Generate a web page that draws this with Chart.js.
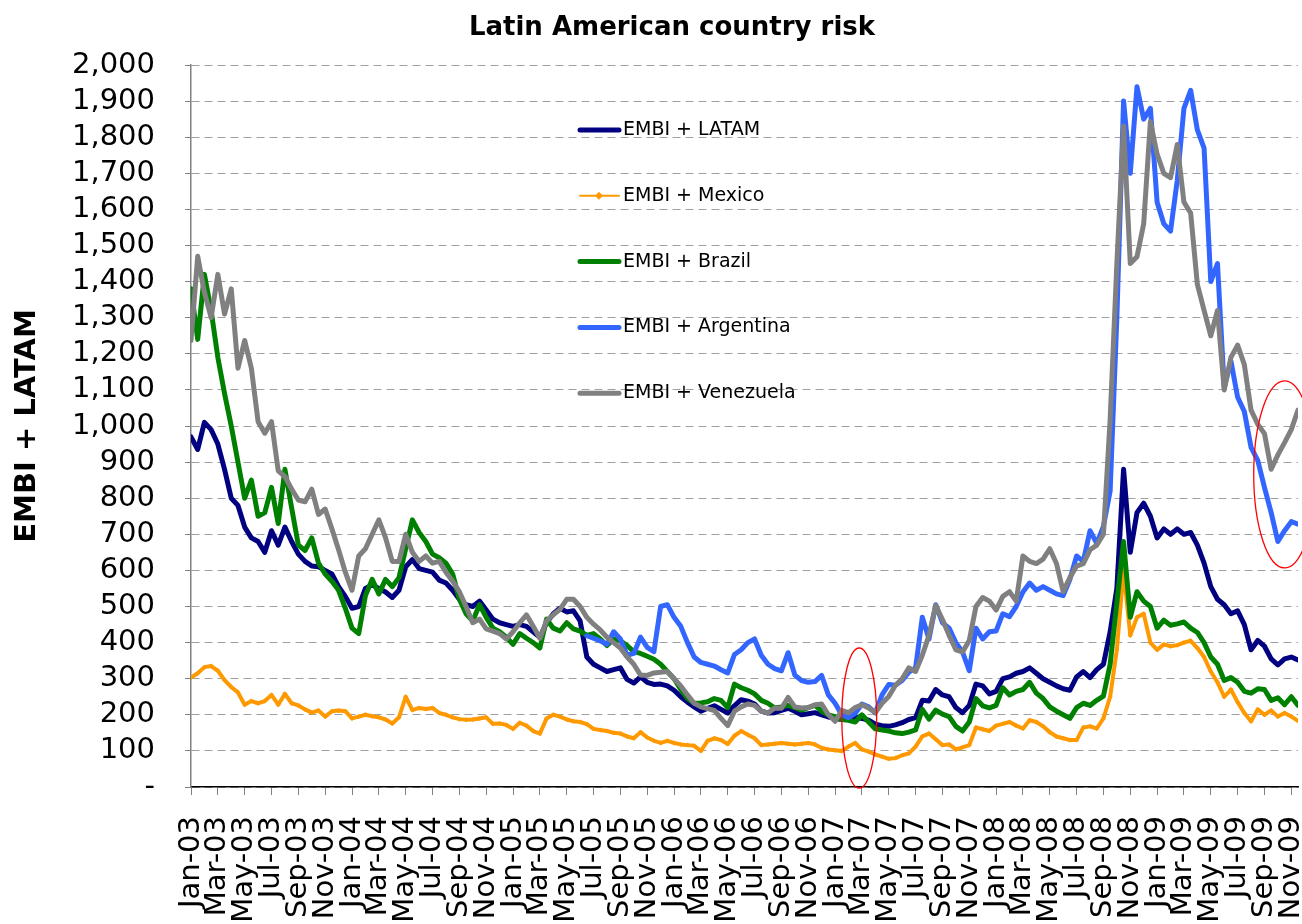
<!DOCTYPE html>
<html>
<head>
<meta charset="utf-8">
<title>Latin American country risk</title>
<script src="https://cdn.jsdelivr.net/npm/chart.js@4.4.0/dist/chart.umd.min.js"></script>
<style>
  html, body { margin: 0; padding: 0; background: #fff; }
  canvas { display: block; }
</style>
</head>
<body>
<canvas id="riskChart" width="1302" height="924"></canvas>
<script>
// x = months since Jan-03, one reading every half month
const periods = Array.from({ length: 166 }, (_, i) => i / 2);

const tickLabels = [
  'Jan-03', 'Mar-03', 'May-03', 'Jul-03', 'Sep-03', 'Nov-03',
  'Jan-04', 'Mar-04', 'May-04', 'Jul-04', 'Sep-04', 'Nov-04',
  'Jan-05', 'Mar-05', 'May-05', 'Jul-05', 'Sep-05', 'Nov-05',
  'Jan-06', 'Mar-06', 'May-06', 'Jul-06', 'Sep-06', 'Nov-06',
  'Jan-07', 'Mar-07', 'May-07', 'Jul-07', 'Sep-07', 'Nov-07',
  'Jan-08', 'Mar-08', 'May-08', 'Jul-08', 'Sep-08', 'Nov-08',
  'Jan-09', 'Mar-09', 'May-09', 'Jul-09', 'Sep-09', 'Nov-09'
];

const seriesNames = ['EMBI + LATAM', 'EMBI + Mexico', 'EMBI + Brazil', 'EMBI + Argentina', 'EMBI + Venezuela'];

const latam = [
  970, 935, 1010, 990, 950, 880, 800, 780, 720, 690, 680, 650, 710, 670, 720, 680, 645, 625, 612, 610, 600, 590, 555, 528,
  495, 500, 550, 560, 550, 540, 525, 545, 610, 630, 605, 600, 595, 573, 565, 545, 520, 505, 500, 515, 490, 465, 455, 450,
  445, 450, 445, 430, 415, 455, 480, 495, 485, 488, 460, 360, 340, 330, 320, 325, 330, 298, 288, 305, 290, 284, 285, 280,
  268, 250, 235, 222, 210, 218, 225, 215, 205, 225, 242, 238, 230, 210, 205, 206, 212, 218, 210, 200, 203, 206, 200, 194,
  190, 187, 190, 193, 190, 185, 174, 170, 168, 172, 178, 187, 192, 240, 238, 270, 255, 250, 220, 206, 226, 285, 280, 258,
  265, 300, 305, 315, 320, 330, 315, 300, 290, 280, 272, 268, 305, 320, 303, 325, 340, 430, 550, 880, 650, 760, 786, 750,
  690, 715, 700, 715, 700, 705, 670, 620, 555, 520, 505, 480, 488, 450, 380, 406, 390, 355, 338, 355, 360, 352
];

const mexico = [
  303, 315, 332, 335, 322, 296, 277, 262, 228, 238, 232, 238, 255, 228, 258, 232, 226, 215, 206, 212, 195, 210, 212, 210,
  190, 195, 200, 196, 193, 187, 176, 193, 250, 213, 219, 216, 219, 205, 200, 193, 188, 186, 187, 190, 193, 175, 176, 172,
  161, 178, 170, 155, 148, 190, 200, 195, 187, 182, 180, 174, 161, 158, 155, 150, 148, 140, 135, 152, 137, 128, 122, 128,
  122, 118, 116, 114, 100, 128, 135, 130, 119, 142, 155, 145, 135, 116, 118, 120, 122, 120, 118, 120, 122, 118, 108, 104,
  102, 100, 112, 122, 104, 98, 90, 84, 78, 80, 88, 93, 112, 140, 148, 132, 116, 118, 104, 110, 116, 165, 160, 155,
  170, 175, 180, 170, 162, 185, 180, 168, 152, 140, 135, 130, 130, 165, 168, 162, 190, 250, 380, 600, 420, 470, 480, 400,
  380, 395, 390, 393, 400, 405, 385, 360, 320, 290, 250, 270, 235, 205, 182, 215, 200, 212, 195, 205, 195, 183
];

const brazil = [
  1380, 1240, 1420, 1320, 1190, 1090, 1000, 900, 800, 850, 750, 760, 830, 730, 880, 773, 670, 655, 690, 620, 590, 570, 545, 495,
  440, 425, 530, 575, 535, 575, 555, 580, 660, 740, 705, 680, 645, 635, 620, 590, 520, 480, 460, 505, 470, 440, 430, 415,
  395, 425, 412, 400, 385, 465, 440, 432, 455, 438, 432, 420, 425, 410, 392, 410, 405, 392, 375, 370, 362, 354, 340, 320,
  300, 270, 245, 232, 233, 236, 245, 240, 220, 285, 275, 268, 258, 240, 232, 219, 222, 226, 220, 213, 220, 226, 210, 200,
  195, 187, 185, 180, 200, 180, 161, 158, 155, 150, 148, 152, 158, 215, 188, 213, 202, 195, 168, 155, 180, 245, 225, 219,
  226, 275, 255, 265, 270, 290, 260, 245, 222, 210, 200, 190, 220, 232, 226, 240, 252, 340, 510, 680, 470, 541, 515, 500,
  440, 462, 448, 452, 457, 440, 428, 400, 360, 340, 295, 303, 290, 265, 260, 272, 270, 240, 247, 228, 250, 226
];

const argentina = [
  null, null, null, null, null, null, null, null, null, null, null, null, null, null, null, null, null, null, null, null, null, null, null, null,
  null, null, null, null, null, null, null, null, null, null, null, null, null, null, null, null, null, null, null, null, null, null, null, null,
  null, null, null, null, null, null, null, null, null, null, null, 419, 412, 405, 395, 430, 410, 365, 370, 415, 387, 375, 500, 505,
  470, 445, 400, 360, 345, 340, 335, 325, 316, 367, 380, 400, 410, 365, 340, 328, 322, 372, 310, 295, 290, 292, 309, 255,
  232, 200, 192, 204, 230, 222, 205, 255, 284, 282, 295, 318, 330, 470, 410, 505, 455, 440, 400, 374, 322, 440, 410, 430,
  432, 480, 472, 500, 540, 565, 545, 555, 545, 535, 530, 575, 640, 625, 710, 675, 722, 820, 1300, 1900, 1700, 1940, 1850, 1880,
  1620, 1560, 1540, 1680, 1880, 1930, 1820, 1770, 1400, 1450, 1108, 1180, 1080, 1040, 941, 905, 830, 760, 680, 710, 735, 728
];

const venezuela = [
  1237, 1470, 1370, 1300, 1420, 1310, 1380, 1160, 1237, 1160, 1012, 980, 1012, 876, 860, 825, 795, 790, 825, 755, 770, 715, 657, 595,
  545, 640, 660, 700, 740, 690, 625, 625, 700, 650, 625, 640, 620, 625, 595, 570, 541, 500, 455, 465, 438, 432, 425, 410,
  430, 455, 477, 445, 412, 460, 477, 492, 520, 520, 500, 470, 451, 435, 415, 400, 385, 360, 340, 310, 309, 316, 318, 320,
  300, 280, 255, 232, 222, 217, 212, 190, 170, 210, 222, 230, 226, 210, 205, 219, 218, 248, 222, 219, 220, 228, 230, 200,
  182, 212, 206, 220, 228, 219, 206, 232, 251, 282, 300, 330, 320, 365, 420, 503, 464, 420, 380, 374, 406, 500, 525, 515,
  490, 528, 541, 515, 640, 625, 619, 631, 660, 619, 541, 580, 612, 619, 657, 670, 700, 1018, 1450, 1830, 1450, 1469, 1560, 1843,
  1753, 1700, 1688, 1780, 1620, 1590, 1392, 1320, 1250, 1320, 1100, 1190, 1224, 1170, 1044, 1005, 979, 880, 920, 954, 990, 1044
];

// red rings drawn on the original chart (in axis units)
const highlights = [
  { month: 49.8, value: 191, rxMonths: 1.3, ryValue: 194 },
  { month: 81.5, value: 866, rxMonths: 2.3, ryValue: 259 }
];

const colors = ['#000080', '#ff9900', '#008000', '#3366ff', '#808080'];
const seriesValues = [latam, mexico, brazil, argentina, venezuela];

const datasets = seriesValues.map((vals, i) => ({
  label: seriesNames[i],
  data: vals,
  borderColor: colors[i],
  backgroundColor: colors[i],
  borderWidth: i === 1 ? 4 : 5,
  pointRadius: i === 1 ? 2.5 : 0,
  pointStyle: 'rectRot',
  pointBorderWidth: 0,
  pointBackgroundColor: colors[i],
  borderJoinStyle: 'round',
  borderCapStyle: 'round',
  tension: 0,
  order: 5 - i   // later series on top, like the original
}));

// title, in-plot legend and red rings
const decorations = {
  id: 'decorations',
  afterDraw(chart) {
    const ctx = chart.ctx;
    const xs = chart.scales.x, ys = chart.scales.y;
    ctx.save();

    ctx.fillStyle = '#000';
    ctx.font = 'bold 26px "DejaVu Sans"';
    ctx.textAlign = 'center';
    ctx.textBaseline = 'middle';
    ctx.fillText('Latin American country risk', 672, 28);

    ctx.font = '19px "DejaVu Sans"';
    ctx.textAlign = 'left';
    chart.data.datasets.forEach((ds, i) => {
      const y = 130 + i * 65.8;
      ctx.strokeStyle = ds.borderColor;
      ctx.lineWidth = i === 1 ? 2 : 5;
      ctx.lineCap = 'round';
      ctx.beginPath();
      ctx.moveTo(580, y);
      ctx.lineTo(619, y);
      ctx.stroke();
      if (i === 1) {
        ctx.fillStyle = ds.borderColor;
        ctx.beginPath();
        ctx.moveTo(599, y - 4); ctx.lineTo(603, y); ctx.lineTo(599, y + 4); ctx.lineTo(595, y);
        ctx.closePath();
        ctx.fill();
      }
      ctx.fillStyle = '#000';
      ctx.fillText(ds.label, 623, y);
    });

    ctx.strokeStyle = '#ff0000';
    ctx.lineWidth = 1.3;
    highlights.forEach(h => {
      const cx = xs.getPixelForValue(h.month);
      const cy = ys.getPixelForValue(h.value);
      const rx = xs.getPixelForValue(h.month + h.rxMonths) - cx;
      const ry = cy - ys.getPixelForValue(h.value + h.ryValue);
      ctx.beginPath();
      ctx.ellipse(cx, cy, rx, ry, 0, 0, Math.PI * 2);
      ctx.stroke();
    });
    ctx.restore();
  }
};

const config = {
  type: 'line',
  data: { labels: periods, datasets: datasets },
  options: {
    responsive: false,
    animation: false,
    devicePixelRatio: 1,
    layout: { padding: { top: 65, left: 0, right: 0, bottom: 0 } },
    plugins: {
      legend: { display: false },
      title: { display: false },
      tooltip: { enabled: false }
    },
    scales: {
      x: {
        type: 'linear',
        min: 0,
        max: 82.5,
        grid: { drawOnChartArea: false, drawTicks: true, tickLength: 8, color: '#808080' },
        border: { color: '#000', width: 1.5 },
        ticks: {
          stepSize: 2,
          includeBounds: false,
          autoSkip: false,
          minRotation: 90,
          maxRotation: 90,
          padding: 21,
          color: '#000',
          font: { family: 'DejaVu Sans', size: 29 },
          callback: v => tickLabels[v / 2]
        },
        afterFit: s => { s.height = 137; s.paddingLeft = 0; s.paddingRight = 0; }
      },
      y: {
        min: 0,
        max: 2000,
        grid: { color: '#a0a0a0', tickLength: 6, tickColor: '#808080', tickBorderDash: [] },
        border: { color: '#808080', width: 1.5, dash: [8, 5] },
        ticks: {
          stepSize: 100,
          autoSkip: false,
          padding: 30,
          color: '#000',
          font: { family: 'DejaVu Sans', size: 29 },
          callback: v => v === 0 ? '-' : v.toLocaleString('en-US')
        },
        title: {
          display: true,
          text: 'EMBI + LATAM',
          color: '#000',
          font: { family: 'DejaVu Sans', size: 29, weight: 'bold' },
          padding: { top: 10, bottom: 0 }
        },
        afterFit: s => { s.width = 191; }
      }
    }
  },
  plugins: [decorations]
};

var riskChart = new Chart(document.getElementById('riskChart'), config);
</script>
</body>
</html>
